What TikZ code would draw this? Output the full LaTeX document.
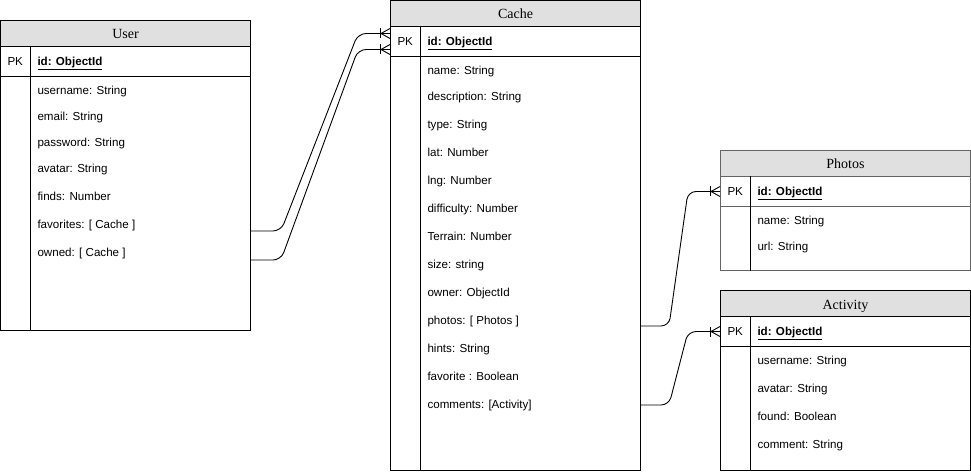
\documentclass[tikz,border=0pt]{standalone}
\usepackage{fontspec}
\setmainfont{Liberation Serif}
\setsansfont{Liberation Sans}

\definecolor{headgray}{RGB}{224,224,224}
\definecolor{tablegray}{RGB}{100,100,100}

\tikzset{
  tablehead/.style={draw, fill=headgray, minimum width=250pt, minimum height=26pt, inner sep=0pt, text height=11pt, text depth=0pt, anchor=north west, font=\fontsize{14}{16}\selectfont},
  pkrow/.style={draw, minimum width=250pt, minimum height=30pt, inner sep=0pt, anchor=north west},
  tablebody/.style={draw, minimum width=250pt, inner sep=0pt, anchor=north west},
  field/.style={anchor=west, inner sep=0pt, text height=11pt, text depth=2.5pt, font=\sffamily\fontsize{11.6}{13}\selectfont},
  keyfield/.style={field, font=\sffamily\bfseries\fontsize{11.6}{13}\selectfont},
  rel/.style={draw, line width=0.9pt, rounded corners=8pt},
  crowfoot/.pic={
    \draw[line width=0.9pt] (0,-5) -- (-9,0) -- (0,5);
    \draw[line width=0.9pt] (-10,-5) -- (-10,5);
  }
}

\begin{document}
\begin{tikzpicture}[x=1pt, y=-1pt, line width=1pt]
\useasboundingbox (0,0) rectangle (971,473);

% User
\node[tablehead] (userhead) at (0,20) {User};
\node[pkrow] (userpk) at (0,46) {};
\node[tablebody, minimum height=254pt] (userbody) at (0,76) {};
\draw ([xshift=30pt]userpk.north west) -- ([xshift=30pt]userbody.south west);
\node[field] (userpklabel) at (7,61) {PK};
\node[keyfield] (userid) at (37,61) {\underline{id: ObjectId}};
\node[field] (username) at (37,90) {username: String};
\node[field] (useremail) at (37,116) {email: String};
\node[field] (userpass) at (37,142) {password: String};
\node[field] (useravatar) at (37,168) {avatar: String};
\node[field] (userfinds) at (37,196) {finds: Number};
\node[field] (userfav) at (37,224) {favorites: [ Cache ]};
\node[field] (userowned) at (37,252) {owned: [ Cache ]};

% Cache
\node[tablehead] (cachehead) at (390,0) {Cache};
\node[pkrow] (cachepk) at (390,26) {};
\node[tablebody, minimum height=414pt] (cachebody) at (390,56) {};
\draw ([xshift=30pt]cachepk.north west) -- ([xshift=30pt]cachebody.south west);
\node[field] (cachepklabel) at (397,41) {PK};
\node[keyfield] (cacheid) at (427,41) {\underline{id: ObjectId}};
\node[field] (cachename) at (427,70) {name: String};
\node[field] (cachedesc) at (427,96) {description: String};
\node[field] (cachetype) at (427,124) {type: String};
\node[field] (cachelat) at (427,152) {lat: Number};
\node[field] (cachelng) at (427,180) {lng: Number};
\node[field] (cachediff) at (427,208) {difficulty: Number};
\node[field] (cacheterrain) at (427,236) {Terrain: Number};
\node[field] (cachesize) at (427,264) {size: string};
\node[field] (cacheowner) at (427,292) {owner: ObjectId};
\node[field] (cachephotos) at (427,320) {photos: [ Photos ]};
\node[field] (cachehints) at (427,348) {hints: String};
\node[field] (cachefav) at (427,376) {favorite : Boolean};
\node[field] (cachecomments) at (427,404) {comments: [Activity]};

% Photos
\node[tablehead, draw=tablegray] (photoshead) at (720,150) {Photos};
\node[pkrow, draw=tablegray] (photospk) at (720,176) {};
\node[tablebody, draw=tablegray, minimum height=64pt] (photosbody) at (720,206) {};
\draw ([xshift=30pt]photospk.north west) -- ([xshift=30pt]photosbody.south west);
\node[field] (photospklabel) at (727,191) {PK};
\node[keyfield] (photosid) at (757,191) {\underline{id: ObjectId}};
\node[field] (photosname) at (757,220) {name: String};
\node[field] (photosurl) at (757,246) {url: String};

% Activity
\node[tablehead] (activityhead) at (720,290) {Activity};
\node[pkrow] (activitypk) at (720,316) {};
\node[tablebody, minimum height=124pt] (activitybody) at (720,346) {};
\draw ([xshift=30pt]activitypk.north west) -- ([xshift=30pt]activitybody.south west);
\node[field] (activitypklabel) at (727,331) {PK};
\node[keyfield] (activityid) at (757,331) {\underline{id: ObjectId}};
\node[field] (activityuser) at (757,360) {username: String};
\node[field] (activityavatar) at (757,388) {avatar: String};
\node[field] (activityfound) at (757,416) {found: Boolean};
\node[field] (activitycomment) at (757,444) {comment: String};

% relations
\draw[rel] (userbody.east |- 0,231) -- ++(30,0) -- ([xshift=-32pt,yshift=8pt]cachepk.west) -- ([yshift=8pt]cachepk.west);
\draw[rel] (userbody.east |- 0,260) -- ++(30,0) -- ([xshift=-32pt,yshift=-8pt]cachepk.west) -- ([yshift=-8pt]cachepk.west);
\draw[rel] (cachebody.east |- 0,326) -- ++(28,0) -- ([xshift=-32pt]photospk.west) -- (photospk.west);
\draw[rel] (cachebody.east |- 0,405) -- ++(28,0) -- ([xshift=-32pt]activitypk.west) -- (activitypk.west);
\pic at ([yshift=8pt]cachepk.west) {crowfoot};
\pic at ([yshift=-8pt]cachepk.west) {crowfoot};
\pic at (photospk.west) {crowfoot};
\pic at (activitypk.west) {crowfoot};
\end{tikzpicture}
\end{document}
